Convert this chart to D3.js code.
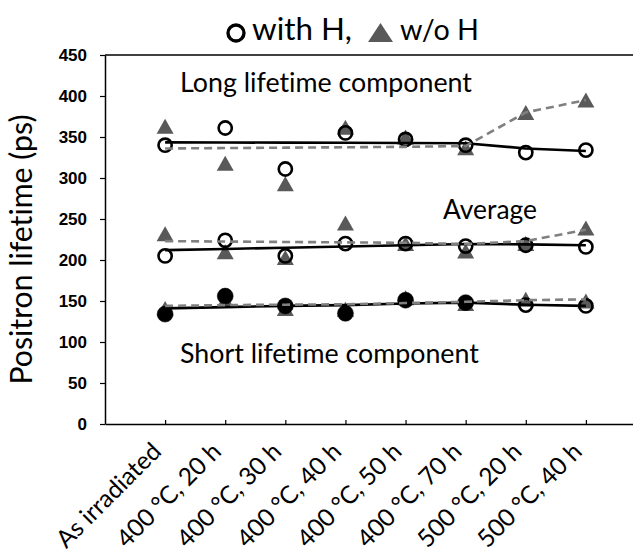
<!DOCTYPE html>
<html><head><meta charset="utf-8">
<script src="https://cdn.jsdelivr.net/npm/d3@7"></script>
<style>html,body{margin:0;padding:0;background:#fff;}svg{display:block;}text{font-variant-ligatures:none;}</style>
</head><body>
<svg id="chart" width="633" height="556"></svg>
<script>
const categories = ["As irradiated","400 °C, 20 h","400 °C, 30 h","400 °C, 40 h","400 °C, 50 h","400 °C, 70 h","500 °C, 20 h","500 °C, 40 h"];
const yTicks = [0,50,100,150,200,250,300,350,400,450];

// markers
const withH_long  = [340, 361, 311, 355, 347, 340, 331, 334];
const woH_long    = [363, 318, 293, 362, 350, 337, 380, 395];
const withH_avg   = [205, 224, 205, 220, 220, 217, 218, 216];
const woH_avg     = [232, 210, 203, 245, 220, 211, 220, 239];
const withH_short = [134, 156, 144, 135, 151, 148, 145, 144];
const woH_short   = [141, 151, 141, 140, 154, 147, 152, 150];

// guide lines
const withH_long_line  = [343.5, 343.3, 343.1, 342.9, 342.7, 342.4, 336, 333];
const woH_long_line    = [336, 336.5, 337, 337.5, 338, 339, 380, 395];
const withH_avg_line   = [212, 213.5, 215, 216.5, 218, 219.5, 219, 218];
const woH_avg_line     = [223, 222.5, 222, 221.5, 221, 219.5, 223, 237];
const withH_short_line = [141, 142.5, 144, 145, 147, 148, 145.5, 144];
const woH_short_line   = [144, 145, 145.5, 146, 147.5, 149, 151, 152];

const svg = d3.select("#chart");
const x = d3.scaleLinear().domain([0, 9]).range([105, 646]);
const y = d3.scaleLinear().domain([0, 450]).range([424, 55]);
const idx = categories.map((c, i) => i + 1);

const calibri = "Lato, 'Open Sans', sans-serif";
function fit(sel, target) {
  const w = sel.node().getComputedTextLength();
  const fs = parseFloat(sel.style("font-size"));
  sel.style("font-size", (fs * target / w) + "px");
}

// top frame line
svg.append("line").attr("x1", x(0)).attr("x2", 633).attr("y1", y(450)).attr("y2", y(450))
  .attr("stroke", "#000").attr("stroke-width", 1.5);

// y axis
const ya = svg.append("g").attr("transform", `translate(${x(0)},0)`)
  .call(d3.axisLeft(y).tickValues(yTicks).tickSize(5).tickSizeOuter(0).tickPadding(13).tickFormat(d3.format("d")));
ya.select(".domain").attr("stroke-width", 1.5);
ya.selectAll(".tick line").attr("stroke-width", 1.2);
ya.selectAll("text").style("font-family", "'Liberation Sans', Arial, sans-serif")
  .style("font-weight", "bold").style("font-size", "17px").attr("fill", "#000");

// x axis
const xa = svg.append("g").attr("transform", `translate(0,${y(0)})`)
  .call(d3.axisBottom(x).tickValues(idx).tickSize(-4).tickSizeOuter(0).tickFormat(i => categories[i - 1]));
xa.select(".domain").attr("stroke-width", 1.5);
xa.selectAll(".tick line").attr("stroke-width", 1.2);
xa.selectAll("text")
  .attr("x", 0).attr("y", 0).attr("dy", 0)
  .attr("text-anchor", "end")
  .attr("transform", "translate(-3,29) rotate(-45)")
  .style("font-family", calibri).style("font-size", "24.5px").attr("fill", "#000");

// y title
const yt = svg.append("text").attr("transform", `translate(32,${(y(0)+y(450))/2 + 10}) rotate(-90)`)
  .attr("text-anchor", "middle").style("font-family", calibri).style("font-size", "24px")
  .text("Positron lifetime (ps)");
fit(yt, 270);

// annotations
const longT = svg.append("text").attr("x", 180).attr("y", 92).style("font-family", calibri).style("font-size", "24px").text("Long lifetime component");
fit(longT, 292);
svg.append("text").attr("x", 180).attr("y", 363).style("font-family", calibri).style("font-size", longT.style("font-size")).text("Short lifetime component");
const avgT = svg.append("text").attr("x", 443).attr("y", 219).style("font-family", calibri).style("font-size", "24px").text("Average");
fit(avgT, 94);

// legend title
svg.append("circle").attr("cx", 236).attr("cy", 33).attr("r", 8).attr("fill", "none").attr("stroke", "#000").attr("stroke-width", 3.4);
const t1 = svg.append("text").attr("x", 252).attr("y", 40).style("font-family", calibri).style("font-size", "25px").text("with H,");
fit(t1, 100);
svg.append("path").attr("d", "M380.5,23 L393,42 L368,42 Z").attr("fill", "#595959");
const t2 = svg.append("text").attr("x", 400).attr("y", 40).style("font-family", calibri).style("font-size", "25px").text("w/o H");
fit(t2, 79);

// markers
const triW = 17, triH = 15;
function triangles(vals) {
  svg.append("g").selectAll("path").data(vals).join("path")
    .attr("d", (v, i) => {
      const cx = x(i + 1), cy = y(v);
      return `M${cx},${cy - triH/2} L${cx + triW/2},${cy + triH/2} L${cx - triW/2},${cy + triH/2} Z`;
    })
    .attr("fill", "#595959");
}
function circles(vals, filled) {
  svg.append("g").selectAll("circle").data(vals).join("circle")
    .attr("cx", (v, i) => x(i + 1)).attr("cy", v => y(v))
    .attr("r", (v, i) => filled(i) ? 8 : 6.6)
    .attr("fill", (v, i) => filled(i) ? "#000" : "none")
    .attr("stroke", "#000").attr("stroke-width", (v, i) => filled(i) ? 0.5 : 2.6);
}
[woH_long, woH_avg, woH_short].forEach(triangles);
circles(withH_long, () => false);
circles(withH_avg, () => false);
circles(withH_short, i => i < 6);

// lines
const line = d3.line().x((v, i) => x(i + 1)).y(v => y(v));
[withH_long_line, withH_avg_line, withH_short_line].forEach(d =>
  svg.append("path").attr("d", line(d)).attr("fill", "none").attr("stroke", "#000").attr("stroke-width", 2.6));
[woH_long_line, woH_avg_line, woH_short_line].forEach(d =>
  svg.append("path").attr("d", line(d)).attr("fill", "none").attr("stroke", "#808080").attr("stroke-width", 2.6).attr("stroke-dasharray", "8,5"));
</script>
</body></html>
